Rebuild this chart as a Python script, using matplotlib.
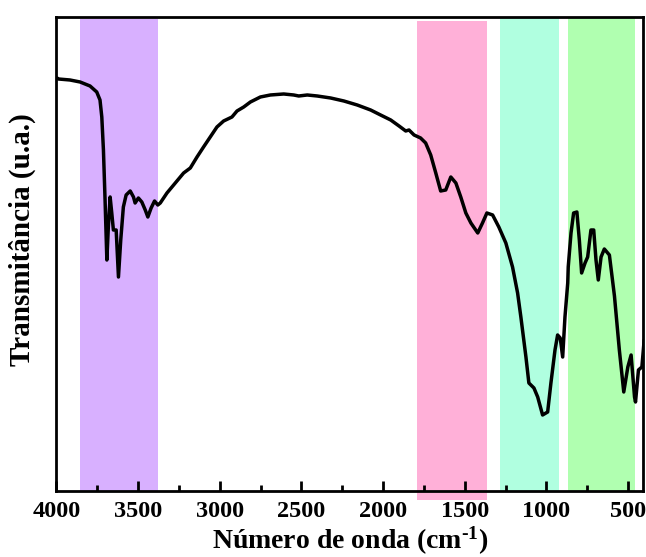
import numpy as np
import matplotlib.pyplot as plt
from matplotlib.ticker import MultipleLocator

plt.rcParams['font.family'] = 'Liberation Serif'
plt.rcParams['font.weight'] = 'bold'
plt.rcParams['axes.labelweight'] = 'bold'
plt.rcParams['mathtext.fontset'] = 'custom'
plt.rcParams['mathtext.rm'] = 'Liberation Serif:bold'
plt.rcParams['mathtext.it'] = 'Liberation Serif:bold'
plt.rcParams['mathtext.bf'] = 'Liberation Serif:bold'

# FTIR spectrum (wavenumber in cm-1, transmittance in arbitrary units)
wavenumber = np.array([
    3996, 3988, 3917, 3855, 3794, 3753, 3733, 3722, 3712, 3702, 3691, 3682,
    3671, 3661, 3651, 3634, 3620, 3606, 3590, 3573, 3548, 3528, 3518, 3498,
    3477, 3456, 3440, 3420, 3399, 3379, 3364, 3323, 3272, 3221, 3180, 3139,
    3099, 3058, 3017, 2976, 2925, 2894, 2853, 2812, 2751, 2690, 2608, 2547,
    2516, 2464, 2403, 2321, 2240, 2158, 2076, 2015, 1953, 1902, 1861, 1841,
    1810, 1770, 1739, 1708, 1677, 1647, 1616, 1585, 1554, 1524, 1493, 1462,
    1420, 1391, 1364, 1329, 1291, 1248, 1207, 1176, 1156, 1125, 1107, 1076,
    1053, 1023, 992, 972, 947, 931, 915, 900, 886, 869, 866, 849, 833, 813,
    798, 784, 763, 747, 727, 710, 696, 682, 665, 645, 614, 583, 553, 526,
    501, 481, 460, 454, 436, 415, 401])
transmittance = np.array([
    413, 412, 411, 409, 405, 399, 391, 374, 341, 291, 231, 264,
    294, 278, 261, 261, 214, 251, 284, 296, 300, 294, 288, 293,
    289, 281, 274, 283, 290, 286, 288, 298, 308, 318, 323, 334,
    344, 354, 364, 370, 374, 380, 384, 389, 394, 396, 397, 396,
    395, 396, 395, 393, 390, 386, 381, 376, 371, 365, 360, 361,
    356, 353, 348, 336, 318, 300, 301, 314, 308, 294, 278, 268,
    258, 268, 278, 276, 264, 248, 224, 198, 174, 134, 108, 103,
    94, 76, 79, 108, 141, 156, 153, 134, 174, 208, 224, 258, 278, 279,
    251, 218, 228, 234, 261, 261, 231, 211, 234, 242, 236, 195, 141, 99,
    124, 136, 94, 89, 121, 124, 151])

# highlighted absorption regions (cm-1) and their colours
band_ranges = [(3855, 3375), (1795, 1365), (1283, 925), (867, 458)]
band_colors = ['#d8b0ff', '#ffb0d8', '#b0ffe0', '#b0ffb0']
band_ylims = [(0.0, 0.996), (-0.019, 0.992), (0.0, 0.998), (0.0, 0.998)]

fig = plt.figure(figsize=(6.46, 5.57), dpi=100)
ax = fig.add_axes([0.0873, 0.1185, 0.9081, 0.851])

for (x0, x1), c, (y0, y1) in zip(band_ranges, band_colors, band_ylims):
    ax.axvspan(x0, x1, ymin=y0, ymax=y1, color=c, lw=0, clip_on=False, zorder=1)

ax.plot(wavenumber, transmittance, color='black', lw=2.5,
        solid_joinstyle='round', solid_capstyle='round', zorder=3)

ax.set_xlim(4000, 408)
ax.set_ylim(0, 474)
ax.xaxis.set_major_locator(MultipleLocator(500))
ax.xaxis.set_minor_locator(MultipleLocator(250))
ax.tick_params(axis='x', which='major', direction='in', length=7, width=2,
               labelsize=17.5, pad=7)
ax.tick_params(axis='x', which='minor', direction='in', length=4, width=2)
ax.set_yticks([])
for s in ax.spines.values():
    s.set_linewidth(2)
    s.set_zorder(4)

ax.set_xlabel(r'Número de onda (cm$^{\text{-1}}$)', fontsize=20, labelpad=2)
ax.set_ylabel('Transmitância (u.a.)', fontsize=21)
ax.yaxis.set_label_coords(-0.035, 0.53)

fig.savefig('out.png', dpi=100)
